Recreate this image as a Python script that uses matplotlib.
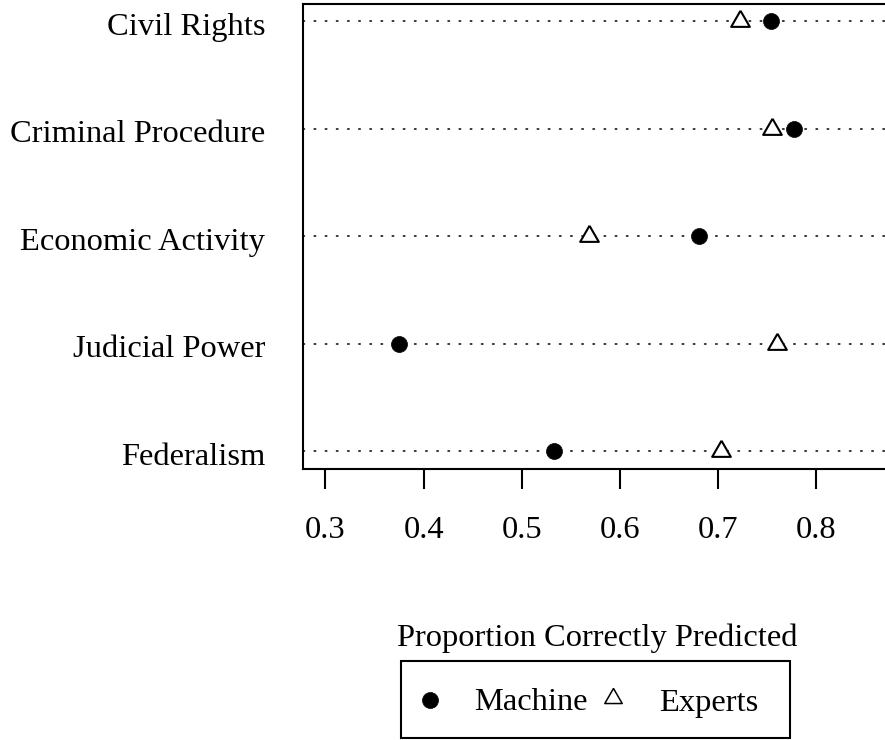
import matplotlib
matplotlib.use("Agg")
import matplotlib.pyplot as plt
from matplotlib.patches import Rectangle
from matplotlib.lines import Line2D
from matplotlib.transforms import ScaledTranslation

categories = ["Federalism", "Judicial Power", "Economic Activity",
              "Criminal Procedure", "Civil Rights"]
machine = [0.533, 0.375, 0.681, 0.778, 0.754]
experts = [0.703, 0.760, 0.569, 0.755, 0.723]
xticks = [0.3, 0.4, 0.5, 0.6, 0.7, 0.8]
xticklabels = ["0.3", "0.4", "0.5", "0.6", "0.7", "0.8"]
xlabel = "Proportion Correctly Predicted"
legend_labels = ["Machine", "Experts"]

plt.rcParams['font.family'] = ['Liberation Serif', 'DejaVu Serif']
FS = 23.4

W, H = 885, 740
fig = plt.figure(figsize=(W / 100, H / 100), dpi=100)

# axes in pixel coordinates
x0, x1 = 303.3, 937.6
ytop, ybot = 4.0, 468.7
ax = fig.add_axes([x0 / W, (H - ybot) / H, (x1 - x0) / W, (ybot - ytop) / H])
ax.set_xlim(0.2774, 0.924)
n = len(categories)
ax.set_ylim(1 - 0.16, n + 0.16)

ypos = list(range(1, n + 1))
for y in ypos:
    ax.plot([0.2774, 0.924], [y, y], color="black", linewidth=1.1,
            dashes=(1.0, 6.3), solid_capstyle="round", dash_capstyle="round", zorder=1)

tri = [(0, 1.155), (-1, -0.577), (1, -0.577), (0, 1.155)]
ax.plot(experts, ypos, linestyle="none", marker=tri, markersize=15.5,
        markerfacecolor="white", markeredgecolor="black", markeredgewidth=1.5, zorder=3)
ax.plot(machine, ypos, linestyle="none", marker="o", markersize=11.5,
        markerfacecolor="black", markeredgecolor="black", markeredgewidth=0.5, zorder=3)

for s in ["left", "bottom", "top", "right"]:
    ax.spines[s].set_linewidth(1.5)
ax.set_xticks(xticks)
ax.set_xticklabels(xticklabels, fontsize=FS)
ax.tick_params(axis="x", direction="out", length=14.6, width=1.5, pad=19.5)
ax.set_yticks(ypos)
ax.set_yticklabels(categories, fontsize=FS)
ax.tick_params(axis="y", length=0, pad=27.4)
down = ScaledTranslation(0, -2.5 / 100, fig.dpi_scale_trans)
for lbl in ax.get_yticklabels():
    lbl.set_transform(lbl.get_transform() + down)

fig.text(597 / W, 1 - 638 / H, xlabel, fontsize=FS, ha="center", va="center")

# legend
lx0, lx1, ly0, ly1 = 400.7, 790, 660.7, 738
fig.patches.append(Rectangle((lx0 / W, 1 - ly1 / H), (lx1 - lx0) / W, (ly1 - ly0) / H,
                             transform=fig.transFigure, fill=False,
                             edgecolor="black", linewidth=1.5))
ly = 1 - 700 / H
fig.lines.append(Line2D([430 / W], [ly], transform=fig.transFigure, marker="o",
                        markersize=11.5, markerfacecolor="black", markeredgecolor="black",
                        markeredgewidth=0.5, linestyle="none"))
lyt = 1 - 703 / H
fig.text(474 / W, lyt, legend_labels[0], fontsize=FS, ha="left", va="center")
fig.lines.append(Line2D([613 / W], [1 - 698 / H], transform=fig.transFigure, marker=tri,
                        markersize=14.5, markerfacecolor="white", markeredgecolor="black",
                        markeredgewidth=1.1, linestyle="none"))
fig.text(659 / W, lyt, legend_labels[1], fontsize=FS, ha="left", va="center")

fig.savefig("out.png", dpi=100)
